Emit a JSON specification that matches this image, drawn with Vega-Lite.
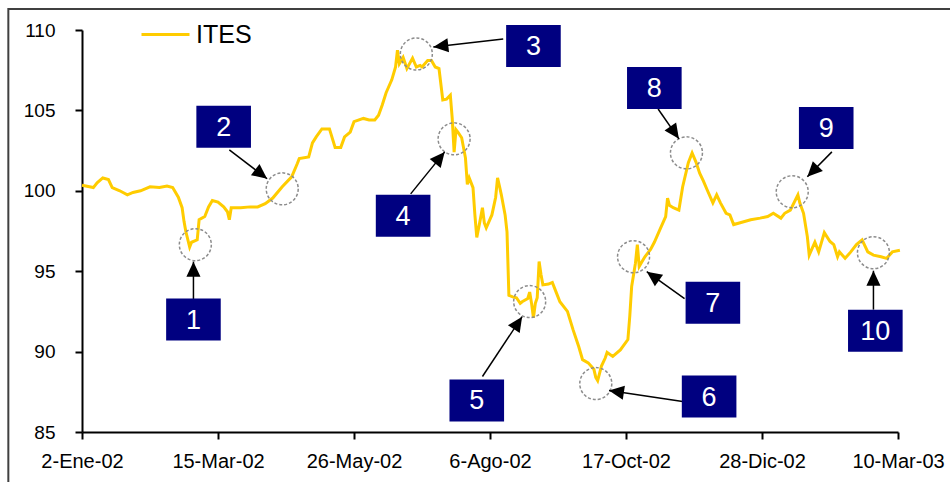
{
  "$schema": "https://vega.github.io/schema/vega-lite/v6.json",
  "width": 816,
  "height": 402,
  "autosize": {"type": "none"},
  "padding": {"left": 82, "top": 30, "right": 52, "bottom": 50},
  "background": "white",
  "config": {
    "view": {"stroke": null},
    "font": "Liberation Sans",
    "axis": {
      "grid": false,
      "title": null,
      "domainColor": "#000000",
      "domainWidth": 2,
      "tickColor": "#000000",
      "tickWidth": 2,
      "tickSize": 7,
      "labelColor": "#000000",
      "labelFont": "Liberation Sans"
    }
  },
  "datasets": {
    "ites": [
      {"date": "2002-01-02", "value": 100.35},
      {"date": "2002-01-04", "value": 100.3},
      {"date": "2002-01-08", "value": 100.2},
      {"date": "2002-01-10", "value": 100.5},
      {"date": "2002-01-13", "value": 100.8},
      {"date": "2002-01-16", "value": 100.7},
      {"date": "2002-01-18", "value": 100.2},
      {"date": "2002-01-22", "value": 100.0},
      {"date": "2002-01-26", "value": 99.75},
      {"date": "2002-01-29", "value": 99.9},
      {"date": "2002-02-02", "value": 100.0},
      {"date": "2002-02-07", "value": 100.25},
      {"date": "2002-02-12", "value": 100.2},
      {"date": "2002-02-16", "value": 100.3},
      {"date": "2002-02-19", "value": 100.2},
      {"date": "2002-02-22", "value": 99.6},
      {"date": "2002-02-24", "value": 98.95},
      {"date": "2002-02-25", "value": 98.1},
      {"date": "2002-02-26", "value": 97.45},
      {"date": "2002-02-28", "value": 96.5},
      {"date": "2002-03-01", "value": 96.8},
      {"date": "2002-03-04", "value": 96.95},
      {"date": "2002-03-05", "value": 98.2},
      {"date": "2002-03-08", "value": 98.4},
      {"date": "2002-03-10", "value": 99.0},
      {"date": "2002-03-12", "value": 99.4},
      {"date": "2002-03-15", "value": 99.3},
      {"date": "2002-03-18", "value": 99.0},
      {"date": "2002-03-20", "value": 98.7},
      {"date": "2002-03-21", "value": 98.2},
      {"date": "2002-03-22", "value": 98.95},
      {"date": "2002-03-27", "value": 98.95},
      {"date": "2002-04-01", "value": 99.0},
      {"date": "2002-04-05", "value": 99.0},
      {"date": "2002-04-09", "value": 99.2},
      {"date": "2002-04-13", "value": 99.55},
      {"date": "2002-04-18", "value": 100.25},
      {"date": "2002-04-23", "value": 100.87},
      {"date": "2002-04-26", "value": 101.7},
      {"date": "2002-04-27", "value": 102.0},
      {"date": "2002-05-02", "value": 102.1},
      {"date": "2002-05-04", "value": 102.98},
      {"date": "2002-05-06", "value": 103.35},
      {"date": "2002-05-09", "value": 103.85},
      {"date": "2002-05-13", "value": 103.85},
      {"date": "2002-05-16", "value": 102.7},
      {"date": "2002-05-19", "value": 102.7},
      {"date": "2002-05-21", "value": 103.35},
      {"date": "2002-05-24", "value": 103.65},
      {"date": "2002-05-26", "value": 104.3},
      {"date": "2002-05-31", "value": 104.5},
      {"date": "2002-06-03", "value": 104.4},
      {"date": "2002-06-06", "value": 104.4},
      {"date": "2002-06-08", "value": 104.7},
      {"date": "2002-06-10", "value": 105.35},
      {"date": "2002-06-12", "value": 106.1},
      {"date": "2002-06-15", "value": 106.9},
      {"date": "2002-06-17", "value": 107.7},
      {"date": "2002-06-18", "value": 108.75},
      {"date": "2002-06-19", "value": 107.9},
      {"date": "2002-06-21", "value": 108.3},
      {"date": "2002-06-23", "value": 107.6},
      {"date": "2002-06-26", "value": 108.25},
      {"date": "2002-06-28", "value": 107.7},
      {"date": "2002-06-30", "value": 107.8},
      {"date": "2002-07-01", "value": 107.7},
      {"date": "2002-07-04", "value": 108.1},
      {"date": "2002-07-06", "value": 108.1},
      {"date": "2002-07-08", "value": 107.7},
      {"date": "2002-07-10", "value": 107.6},
      {"date": "2002-07-12", "value": 105.65},
      {"date": "2002-07-14", "value": 105.7},
      {"date": "2002-07-16", "value": 105.95},
      {"date": "2002-07-17", "value": 104.5},
      {"date": "2002-07-18", "value": 102.4},
      {"date": "2002-07-19", "value": 103.8},
      {"date": "2002-07-20", "value": 103.65},
      {"date": "2002-07-22", "value": 103.3},
      {"date": "2002-07-24", "value": 102.05},
      {"date": "2002-07-25", "value": 100.4},
      {"date": "2002-07-26", "value": 100.8},
      {"date": "2002-07-28", "value": 100.2},
      {"date": "2002-07-29", "value": 98.5},
      {"date": "2002-07-30", "value": 97.1},
      {"date": "2002-08-01", "value": 98.3},
      {"date": "2002-08-02", "value": 98.95},
      {"date": "2002-08-03", "value": 98.0},
      {"date": "2002-08-04", "value": 97.7},
      {"date": "2002-08-07", "value": 98.5},
      {"date": "2002-08-09", "value": 99.6},
      {"date": "2002-08-10", "value": 100.8},
      {"date": "2002-08-11", "value": 100.3},
      {"date": "2002-08-12", "value": 99.75},
      {"date": "2002-08-14", "value": 98.5},
      {"date": "2002-08-15", "value": 97.45},
      {"date": "2002-08-16", "value": 93.5},
      {"date": "2002-08-18", "value": 93.4},
      {"date": "2002-08-20", "value": 93.35},
      {"date": "2002-08-22", "value": 93.0},
      {"date": "2002-08-23", "value": 93.1},
      {"date": "2002-08-26", "value": 93.3},
      {"date": "2002-08-27", "value": 93.7},
      {"date": "2002-08-28", "value": 93.0},
      {"date": "2002-08-29", "value": 92.1},
      {"date": "2002-08-30", "value": 93.0},
      {"date": "2002-08-31", "value": 93.35},
      {"date": "2002-09-01", "value": 95.6},
      {"date": "2002-09-02", "value": 94.8},
      {"date": "2002-09-03", "value": 94.15},
      {"date": "2002-09-06", "value": 94.2},
      {"date": "2002-09-08", "value": 94.3},
      {"date": "2002-09-10", "value": 93.7},
      {"date": "2002-09-12", "value": 93.1},
      {"date": "2002-09-16", "value": 92.5},
      {"date": "2002-09-19", "value": 91.35},
      {"date": "2002-09-22", "value": 90.3},
      {"date": "2002-09-24", "value": 89.5},
      {"date": "2002-09-27", "value": 89.3},
      {"date": "2002-09-30", "value": 88.9},
      {"date": "2002-10-01", "value": 88.4},
      {"date": "2002-10-02", "value": 88.2},
      {"date": "2002-10-04", "value": 89.1},
      {"date": "2002-10-06", "value": 89.6},
      {"date": "2002-10-07", "value": 89.95},
      {"date": "2002-10-10", "value": 89.7},
      {"date": "2002-10-14", "value": 90.1},
      {"date": "2002-10-18", "value": 90.75},
      {"date": "2002-10-19", "value": 92.2},
      {"date": "2002-10-20", "value": 94.05},
      {"date": "2002-10-22", "value": 95.5},
      {"date": "2002-10-23", "value": 96.65},
      {"date": "2002-10-24", "value": 95.3},
      {"date": "2002-10-27", "value": 95.9},
      {"date": "2002-10-30", "value": 96.35},
      {"date": "2002-11-01", "value": 96.8},
      {"date": "2002-11-04", "value": 97.6},
      {"date": "2002-11-07", "value": 98.4},
      {"date": "2002-11-08", "value": 99.55},
      {"date": "2002-11-09", "value": 99.1},
      {"date": "2002-11-11", "value": 98.95},
      {"date": "2002-11-14", "value": 98.8},
      {"date": "2002-11-16", "value": 100.25},
      {"date": "2002-11-19", "value": 101.75},
      {"date": "2002-11-21", "value": 102.35},
      {"date": "2002-11-23", "value": 101.8},
      {"date": "2002-11-25", "value": 101.1},
      {"date": "2002-11-27", "value": 100.6},
      {"date": "2002-11-29", "value": 100.05},
      {"date": "2002-12-02", "value": 99.25},
      {"date": "2002-12-04", "value": 99.75},
      {"date": "2002-12-06", "value": 99.25},
      {"date": "2002-12-09", "value": 98.6},
      {"date": "2002-12-11", "value": 98.5},
      {"date": "2002-12-13", "value": 97.9},
      {"date": "2002-12-16", "value": 98.0},
      {"date": "2002-12-22", "value": 98.2},
      {"date": "2002-12-27", "value": 98.3},
      {"date": "2002-12-31", "value": 98.4},
      {"date": "2003-01-03", "value": 98.6},
      {"date": "2003-01-07", "value": 98.3},
      {"date": "2003-01-09", "value": 98.6},
      {"date": "2003-01-12", "value": 98.8},
      {"date": "2003-01-16", "value": 99.75},
      {"date": "2003-01-17", "value": 99.25},
      {"date": "2003-01-19", "value": 98.6},
      {"date": "2003-01-21", "value": 97.15},
      {"date": "2003-01-22", "value": 96.0},
      {"date": "2003-01-25", "value": 96.8},
      {"date": "2003-01-27", "value": 96.2},
      {"date": "2003-01-30", "value": 97.4},
      {"date": "2003-02-02", "value": 96.85},
      {"date": "2003-02-04", "value": 96.65},
      {"date": "2003-02-06", "value": 95.9},
      {"date": "2003-02-07", "value": 96.2},
      {"date": "2003-02-10", "value": 95.8},
      {"date": "2003-02-13", "value": 96.2},
      {"date": "2003-02-16", "value": 96.65},
      {"date": "2003-02-19", "value": 96.95},
      {"date": "2003-02-22", "value": 96.2},
      {"date": "2003-02-25", "value": 96.0},
      {"date": "2003-03-01", "value": 95.9},
      {"date": "2003-03-04", "value": 95.8},
      {"date": "2003-03-07", "value": 96.2},
      {"date": "2003-03-11", "value": 96.3}
    ],
    "notas": [
      {"n": "1", "box_date": "2002-03-02", "box_value": 91.99, "circle_date": "2002-03-03", "circle_value": 96.65, "tail_date": "2002-03-02", "tail_value": 93.23, "tip_date": "2002-03-02", "tip_value": 95.59},
      {"n": "2", "box_date": "2002-03-18", "box_value": 103.98, "circle_date": "2002-04-18", "circle_value": 100.12, "tail_date": "2002-03-21", "tail_value": 102.55, "tip_date": "2002-04-10", "tip_value": 100.75},
      {"n": "3", "box_date": "2002-08-29", "box_value": 109.01, "circle_date": "2002-06-28", "circle_value": 108.51, "tail_date": "2002-08-13", "tail_value": 109.44, "tip_date": "2002-07-07", "tip_value": 108.94},
      {"n": "4", "box_date": "2002-06-21", "box_value": 98.45, "circle_date": "2002-07-18", "circle_value": 103.23, "tail_date": "2002-06-25", "tail_value": 99.81, "tip_date": "2002-07-13", "tip_value": 102.42},
      {"n": "5", "box_date": "2002-07-30", "box_value": 86.96, "circle_date": "2002-08-27", "circle_value": 93.11, "tail_date": "2002-08-02", "tail_value": 88.45, "tip_date": "2002-08-23", "tip_value": 92.17},
      {"n": "6", "box_date": "2002-11-30", "box_value": 87.2, "circle_date": "2002-10-01", "circle_value": 88.01, "tail_date": "2002-11-16", "tail_value": 86.89, "tip_date": "2002-10-08", "tip_value": 87.58},
      {"n": "7", "box_date": "2002-12-02", "box_value": 93.04, "circle_date": "2002-10-21", "circle_value": 95.9, "tail_date": "2002-11-17", "tail_value": 93.29, "tip_date": "2002-10-28", "tip_value": 94.97},
      {"n": "8", "box_date": "2002-11-01", "box_value": 106.4, "circle_date": "2002-11-18", "circle_value": 102.36, "tail_date": "2002-11-03", "tail_value": 105.09, "tip_date": "2002-11-14", "tip_value": 103.23},
      {"n": "9", "box_date": "2003-01-31", "box_value": 103.91, "circle_date": "2003-01-13", "circle_value": 99.94, "tail_date": "2003-02-03", "tail_value": 102.42, "tip_date": "2003-01-21", "tip_value": 100.87},
      {"n": "10", "box_date": "2003-02-26", "box_value": 91.3, "circle_date": "2003-02-25", "circle_value": 96.15, "tail_date": "2003-02-25", "tail_value": 92.61, "tip_date": "2003-02-25", "tip_value": 95.03}
    ]
  },
  "encoding": {
    "x": {
      "type": "temporal",
      "scale": {
        "type": "utc",
        "nice": false,
        "domain": [
          {"year": 2002, "month": 1, "date": 2, "utc": true},
          {"year": 2003, "month": 3, "date": 10, "utc": true}
        ]
      },
      "axis": {
        "values": [
          {"year": 2002, "month": 1, "date": 2, "utc": true},
          {"year": 2002, "month": 3, "date": 15, "utc": true},
          {"year": 2002, "month": 5, "date": 26, "utc": true},
          {"year": 2002, "month": 8, "date": 6, "utc": true},
          {"year": 2002, "month": 10, "date": 17, "utc": true},
          {"year": 2002, "month": 12, "date": 28, "utc": true},
          {"year": 2003, "month": 3, "date": 10, "utc": true}
        ],
        "labelExpr": "utcdate(datum.value) + '-' + ['Ene','Feb','Mar','Abr','May','Jun','Jul','Ago','Sep','Oct','Nov','Dic'][utcmonth(datum.value)] + '-' + utcFormat(datum.value, '%y')",
        "labelFontSize": 20,
        "labelPadding": 12,
        "labelOverlap": false,
        "labelFlush": false
      }
    },
    "y": {
      "type": "quantitative",
      "scale": {"domain": [85, 110], "nice": false, "zero": false},
      "axis": {
        "values": [85, 90, 95, 100, 105, 110],
        "labelFontSize": 19,
        "labelPadding": 20
      }
    }
  },
  "layer": [
    {
      "data": {"values": [{}]},
      "mark": {"type": "rect", "filled": false, "color": "#404040", "strokeWidth": 2, "clip": false},
      "encoding": {
        "x": {"datum": {"year": 2001, "month": 11, "date": 24, "utc": true}, "type": "temporal"},
        "x2": {"datum": {"year": 2003, "month": 6, "date": 1, "utc": true}},
        "y": {"datum": 111.3, "type": "quantitative"},
        "y2": {"datum": 80}
      }
    },
    {
      "data": {"name": "ites"},
      "mark": {"type": "line", "strokeWidth": 3, "clip": false},
      "encoding": {
        "x": {"field": "date", "type": "temporal"},
        "y": {"field": "value", "type": "quantitative"},
        "color": {
          "datum": "ITES",
          "type": "nominal",
          "scale": {"range": ["#FFCC00"]},
          "legend": {
            "orient": "none",
            "legendX": 58,
            "legendY": -21,
            "title": null,
            "padding": 0,
            "symbolType": "stroke",
            "symbolSize": 2304,
            "symbolStrokeWidth": 3,
            "labelFontSize": 25,
            "labelFont": "Liberation Sans",
            "labelColor": "#000000",
            "labelOffset": 5
          }
        }
      }
    },
    {
      "data": {"name": "notas"},
      "mark": {"type": "point", "shape": "circle", "size": 1024, "filled": false, "stroke": "#8c8c8c", "strokeWidth": 1.5, "strokeDash": [3, 2], "opacity": 1},
      "encoding": {
        "x": {"field": "circle_date", "type": "temporal"},
        "y": {"field": "circle_value", "type": "quantitative"}
      }
    },
    {
      "data": {"name": "notas"},
      "mark": {"type": "rule", "color": "#000000", "strokeWidth": 1.5},
      "encoding": {
        "x": {"field": "tail_date", "type": "temporal"},
        "y": {"field": "tail_value", "type": "quantitative"},
        "x2": {"field": "tip_date"},
        "y2": {"field": "tip_value"}
      }
    },
    {
      "data": {"name": "notas"},
      "transform": [
        {"calculate": "atan2((toDate(datum.tip_date) - toDate(datum.tail_date)) / 86400000 * 1.8875, (datum.tip_value - datum.tail_value) * 16.1) * 180 / PI", "as": "angulo"}
      ],
      "mark": {"type": "point", "shape": "M0,0L-0.47,1L0.47,1Z", "size": 900, "filled": true, "color": "#000000", "opacity": 1},
      "encoding": {
        "x": {"field": "tip_date", "type": "temporal"},
        "y": {"field": "tip_value", "type": "quantitative"},
        "angle": {"field": "angulo", "type": "quantitative", "scale": null}
      }
    },
    {
      "data": {"name": "notas"},
      "mark": {"type": "point", "shape": "M-1.3,-1L1.3,-1L1.3,1L-1.3,1Z", "size": 1764, "filled": true, "color": "#000080", "opacity": 1},
      "encoding": {
        "x": {"field": "box_date", "type": "temporal"},
        "y": {"field": "box_value", "type": "quantitative"}
      }
    },
    {
      "data": {"name": "notas"},
      "mark": {"type": "text", "color": "#ffffff", "fontSize": 27, "font": "Liberation Sans", "align": "center", "baseline": "middle", "dy": 1},
      "encoding": {
        "x": {"field": "box_date", "type": "temporal"},
        "y": {"field": "box_value", "type": "quantitative"},
        "text": {"field": "n", "type": "nominal"}
      }
    }
  ]
}
